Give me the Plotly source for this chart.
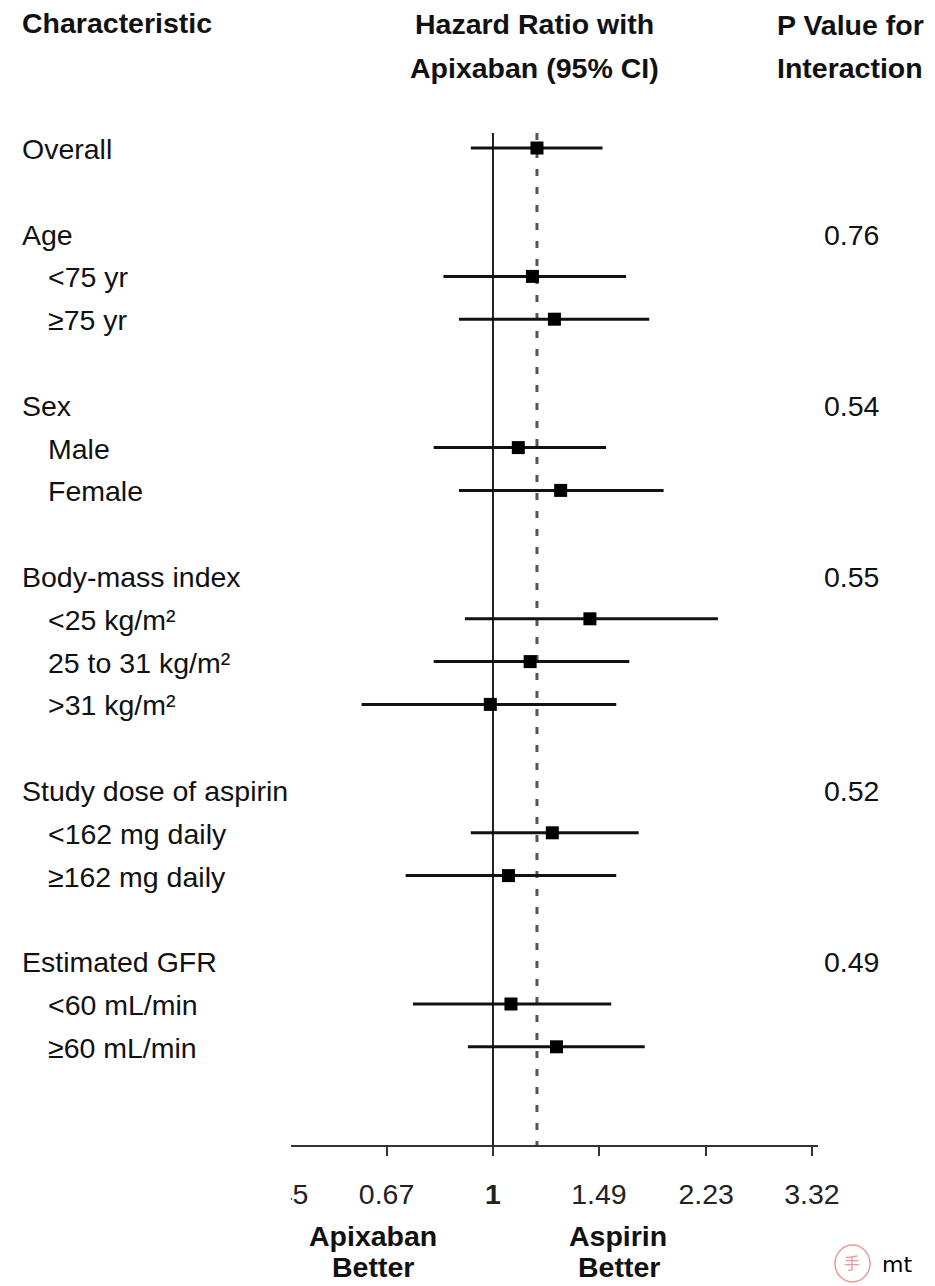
import math
import plotly.graph_objects as go

# ---------------- data ----------------
labels = ["Overall", "Age", "<75 yr", "≥75 yr", "Sex", "Male", "Female",
          "Body-mass index", "<25 kg/m²", "25 to 31 kg/m²", ">31 kg/m²",
          "Study dose of aspirin", "<162 mg daily", "≥162 mg daily",
          "Estimated GFR", "<60 mL/min", "≥60 mL/min"]
rows = [0, 2, 3, 4, 6, 7, 8, 10, 11, 12, 13, 15, 16, 17, 19, 20, 21]
indented = [False, False, True, True, False, True, True, False, True, True, True,
            False, True, True, False, True, True]
hr = [1.18, None, 1.16, 1.26, None, 1.10, 1.29, None, 1.44, 1.15, 0.99,
      None, 1.25, 1.06, None, 1.07, 1.27]
ci_low = [0.92, None, 0.83, 0.88, None, 0.80, 0.88, None, 0.90, 0.80, 0.61,
          None, 0.92, 0.72, None, 0.74, 0.91]
ci_high = [1.51, None, 1.65, 1.80, None, 1.53, 1.90, None, 2.33, 1.67, 1.59,
           None, 1.73, 1.59, None, 1.56, 1.77]
p_rows = [2, 6, 10, 15, 19]
p_values = ["0.76", "0.54", "0.55", "0.52", "0.49"]
tick_vals = [0.45, 0.67, 1, 1.49, 2.23, 3.32]
tick_text = ["0.45", "0.67", "<b>1</b>", "1.49", "2.23", "3.32"]

# ---------------- layout geometry (pixels) ----------------
W, H = 935, 1286
AX_TOP, AX_BOT = 133, 1145
ROW0, ROWH = 148, 42.8
X_LEFT_VAL, X_RIGHT_VAL = 0.40, 3.40
X_LEFT_PX, X_RIGHT_PX = 249.4, 818.3
FONT = "Liberation Sans, Arial, Helvetica, sans-serif"
FS = 28.5


def px(x):
    return x / W


def py(y):
    return 1 - y / H


y_top = (AX_TOP - ROW0) / ROWH
y_bot = (AX_BOT - ROW0) / ROWH

fig = go.Figure()

# reference lines
fig.add_trace(go.Scatter(x=[1, 1], y=[y_top, y_bot], mode="lines",
                         line=dict(color="#222222", width=2), hoverinfo="skip"))
overall = hr[0]
fig.add_trace(go.Scatter(x=[overall, overall], y=[y_top, y_bot], mode="lines",
                         line=dict(color="#555555", width=3, dash="7px,11px"),
                         hoverinfo="skip"))

# CI segments
cx, cy = [], []
for r, lo, hi in zip(rows, ci_low, ci_high):
    if lo is None:
        continue
    cx += [lo, hi, None]
    cy += [r, r, None]
fig.add_trace(go.Scatter(x=cx, y=cy, mode="lines",
                         line=dict(color="#111111", width=3), hoverinfo="skip"))

# point estimates
mx, my = [], []
for r, v in zip(rows, hr):
    if v is None:
        continue
    mx.append(v)
    my.append(r)
fig.add_trace(go.Scatter(x=mx, y=my, mode="markers",
                         marker=dict(symbol="square", size=13, color="#000000"),
                         hoverinfo="skip"))

txt_font = dict(family=FONT, size=FS, color="#111111")
annotations = []
# row labels
for lab, r, ind in zip(labels, rows, indented):
    annotations.append(dict(text=lab, x=px(46 if ind else 20), xref="paper",
                            y=r, yref="y", xanchor="left", yanchor="middle",
                            showarrow=False, yshift=-1, font=txt_font))
# p values
for r, p in zip(p_rows, p_values):
    annotations.append(dict(text=p, x=px(822), xref="paper", y=r, yref="y",
                            xanchor="left", yanchor="middle", showarrow=False,
                            yshift=-1, font=txt_font))
# headers
hdr_font = dict(family=FONT, size=FS, color="#111111")


def paper_text(text, x, y, anchor="center", font=hdr_font):
    return dict(text=text, x=px(x), y=py(y), xref="paper", yref="paper",
                xanchor=anchor, yanchor="middle", showarrow=False, font=font)


annotations += [
    paper_text("<b>Characteristic</b>", 20, 23, "left"),
    paper_text("<b>Hazard Ratio with</b>", 534, 24),
    paper_text("<b>Apixaban (95% CI)</b>", 534, 68),
    paper_text("<b>P Value for</b>", 775, 25, "left"),
    paper_text("<b>Interaction</b>", 775, 68, "left"),
    paper_text("<b>Apixaban</b>", 373, 1236),
    paper_text("<b>Better</b>", 373, 1267),
    paper_text("<b>Aspirin</b>", 618, 1236),
    paper_text("<b>Better</b>", 619, 1267),
    # watermark
    paper_text("mt", 880, 1264, "left",
               dict(family="DejaVu Sans", size=22, color="#000000")),
    paper_text("手", 852, 1262, "center",
               dict(family="Noto Sans CJK SC", size=16, color="#ee9999")),
]

shapes = [
    # clip of left part of the axis (stitched panel edge)
    dict(type="rect", xref="paper", yref="paper", x0=px(225), x1=px(291),
         y0=py(1215), y1=py(1130), fillcolor="white", line=dict(width=0),
         layer="above"),
    dict(type="circle", xref="paper", yref="paper", x0=px(835), x1=px(870),
         y0=py(1282), y1=py(1245), line=dict(color="#ee9999", width=1.5),
         layer="above"),
]

fig.update_layout(
    width=W, height=H,
    margin=dict(l=0, r=0, t=0, b=0, pad=0, autoexpand=False),
    paper_bgcolor="white", plot_bgcolor="white", showlegend=False,
    annotations=annotations, shapes=shapes,
    xaxis=dict(type="log", range=[math.log10(X_LEFT_VAL), math.log10(X_RIGHT_VAL)],
               domain=[px(X_LEFT_PX), px(X_RIGHT_PX)], automargin=False,
               showline=True, linecolor="#333333", linewidth=2,
               ticks="outside", ticklen=9, tickwidth=2, tickcolor="#333333",
               tickvals=tick_vals, ticktext=tick_text, showgrid=False,
               zeroline=False, ticklabelstandoff=14,
               tickfont=dict(family=FONT, size=FS, color="#222222"),
               anchor="y"),
    yaxis=dict(range=[y_bot, y_top], domain=[py(AX_BOT), py(AX_TOP)],
               automargin=False, visible=False, showgrid=False, zeroline=False),
)

fig.write_html("out.html")
